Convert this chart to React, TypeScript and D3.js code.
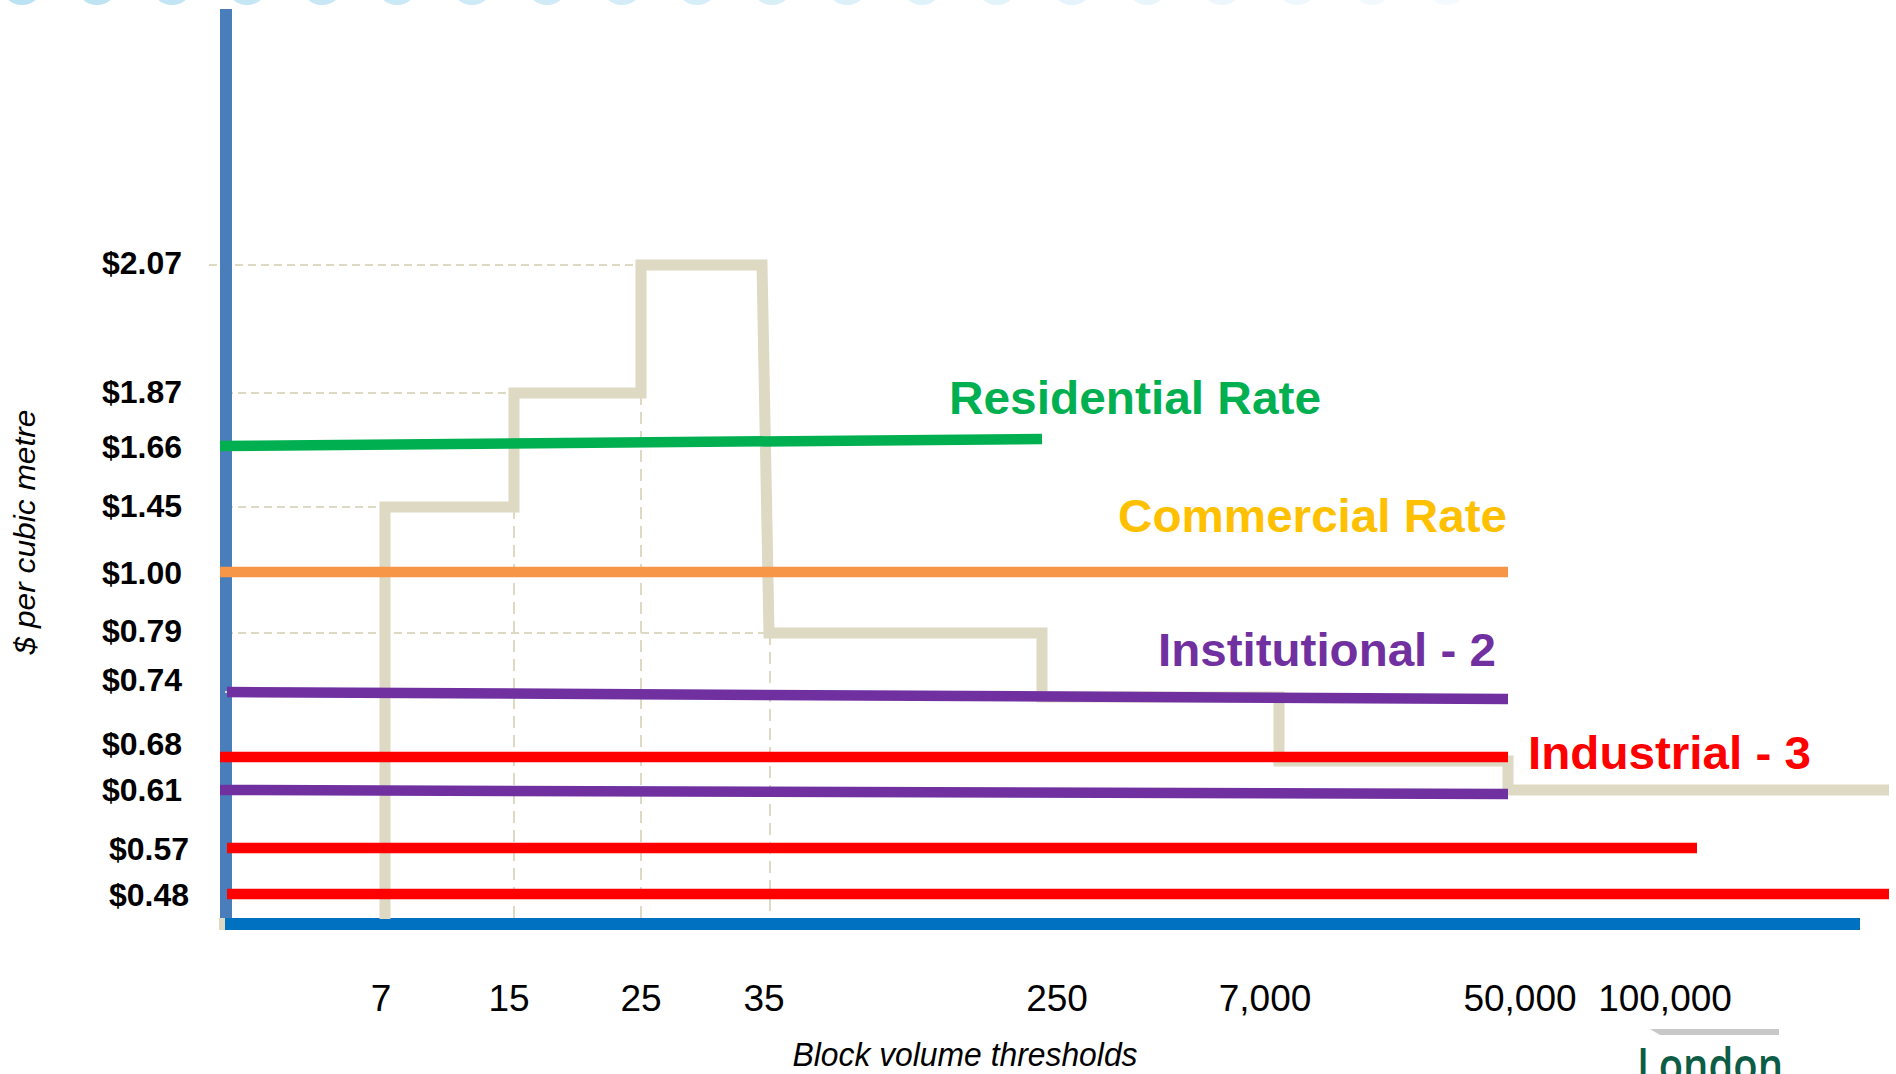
import React from "react";
import * as d3 from "d3";

// ---------- data ----------
const yTickValues = [2.07, 1.87, 1.66, 1.45, 1.0, 0.79, 0.74, 0.68, 0.61, 0.57, 0.48];
const xTickValues = [7, 15, 25, 35, 250, 7000, 50000, 100000];
const OPEN_END = 1000000; // open-ended last block

// old block-rate staircase (threshold -> rate that starts there)
const stepThresholds = [7, 15, 25, 35, 250, 7000, 50000];
const stepRates = [1.45, 1.87, 2.07, 0.79, 0.74, 0.68, 0.61];

// new flat rates: each tier = [rate, applies up to volume]
const residentialTiers = [{ rate: 1.66, upTo: 250 }];
const commercialTiers = [{ rate: 1.0, upTo: 50000 }];
const institutionalTiers = [
  { rate: 0.74, upTo: 50000 },
  { rate: 0.61, upTo: 50000 },
];
const industrialTiers = [
  { rate: 0.68, upTo: 50000 },
  { rate: 0.57, upTo: 100000 },
  { rate: 0.48, upTo: OPEN_END },
];

const seriesNames = ["Residential Rate", "Commercial Rate", "Institutional - 2", "Industrial - 3"];

// ---------- styles / layout ----------
const FONT = "'Liberation Sans', Arial, Helvetica, sans-serif";
const COLORS = {
  residential: "#00B050",
  commercialLine: "#F79646",
  commercialText: "#FFC000",
  institutional: "#7030A0",
  industrial: "#FF0000",
  step: "#DDD9C3",
  yAxis: "#4A7EBB",
  xAxis: "#0070C0",
};

export default function App() {
  const W = 1896;
  const H = 1074;

  // schematic (piecewise) scales
  const y = d3
    .scaleLinear()
    .domain(yTickValues)
    .range([265, 393, 446, 507, 572, 633, 692, 757, 790, 848, 894]);
  const x = d3
    .scaleLinear()
    .domain([0, ...xTickValues, OPEN_END])
    .range([226, 385, 514, 641, 766, 1042, 1279, 1508, 1697, 1889]);

  const yBottom = 919;

  // drawing quirks of the original slide, px
  const stepDy: Record<number, number> = { 4: 5, 5: 4 };
  const stepSlant: Record<number, [number, number]> = { 3: [-4, 3] };

  // staircase path (explicit corners)
  const stepPts: [number, number][] = [];
  let prevY = yBottom;
  stepThresholds.forEach((t, i) => {
    const [a, b] = stepSlant[i] || [0, 0];
    const ny = y(stepRates[i]) + (stepDy[i] || 0);
    stepPts.push([x(t) + a, prevY]);
    stepPts.push([x(t) + b, ny]);
    prevY = ny;
  });
  stepPts.push([x(OPEN_END), prevY]);
  const stepPath = d3.line()(stepPts) || "";

  const yLabelNudge: Record<string, number> = {
    "2.07": -3, "1.87": -2, "1.45": -2, "0.79": -3, "0.74": -13, "0.68": -14, "0.61": -1,
  };
  const yLabelShift: Record<string, number> = { "0.57": 7, "0.48": 7 };
  const xLabelNudge: Record<string, number> = {
    "7": -4, "15": -5, "25": 0, "35": -2, "250": 15, "7000": -14, "50000": 12, "100000": -32,
  };
  const lineTilt: Record<string, number> = { "0-0": -7, "2-0": 7, "2-1": 4 };
  const lineInset: Record<string, number> = { "2-0": 7, "3-1": 7, "3-2": 7 };
  const vDashDx: Record<number, number> = { 3: 4 };

  const fmtY = d3.format("$.2f");
  const fmtX = d3.format(",");

  const tiers = [
    { data: residentialTiers, color: COLORS.residential },
    { data: commercialTiers, color: COLORS.commercialLine },
    { data: institutionalTiers, color: COLORS.institutional },
    { data: industrialTiers, color: COLORS.industrial },
  ];

  const seriesLabels = [
    { name: seriesNames[0], color: COLORS.residential, x: 949, y: 414, len: 372 },
    { name: seriesNames[1], color: COLORS.commercialText, x: 1118, y: 532, len: 389 },
    { name: seriesNames[2], color: COLORS.institutional, x: 1158, y: 666, len: 338 },
    { name: seriesNames[3], color: COLORS.industrial, x: 1528, y: 769, len: 283 },
  ];

  const circles = d3.range(20);

  return (
    <svg
      width={W}
      height={H}
      style={{ position: "absolute", left: 0, top: 0, background: "#fff" }}
      fontFamily={FONT}
    >
      {/* decorative header circles */}
      {circles.map((i) => (
        <circle
          key={i}
          cx={22 + i * 75}
          cy={-16}
          r={21}
          fill="#B3DFF2"
          opacity={Math.max(0.12, 0.9 - i * 0.04)}
        />
      ))}

      {/* dashed guide lines */}
      {stepThresholds.slice(0, 4).map((t, i) => (
        <line
          key={"hd" + i}
          x1={i === 2 ? 209 : 225}
          x2={x(t)}
          y1={y(stepRates[i])}
          y2={y(stepRates[i])}
          stroke={COLORS.step}
          strokeWidth={2}
          strokeDasharray="8 5"
        />
      ))}
      {stepThresholds.slice(1, 4).map((t, k) => {
        const i = k + 1;
        const lower = Math.min(stepRates[i - 1], stepRates[i]);
        const xx = x(t) + (vDashDx[i] || 0);
        return (
          <line
            key={"vd" + i}
            x1={xx}
            x2={xx}
            y1={y(lower)}
            y2={yBottom}
            stroke={COLORS.step}
            strokeWidth={2}
            strokeDasharray="12 7"
          />
        );
      })}

      {/* axes */}
      <rect x={220} y={9} width={12} height={912} fill={COLORS.yAxis} />
      <rect x={219} y={918} width={7} height={12} fill={COLORS.step} />
      <rect x={225} y={918} width={1860 - 225} height={12} fill={COLORS.xAxis} />
      <line x1={225} x2={233} y1={y(0.74)} y2={y(0.74)} stroke={COLORS.step} strokeWidth={2} />

      {/* staircase */}
      <path d={stepPath} fill="none" stroke={COLORS.step} strokeWidth={11} strokeLinejoin="miter" />

      {/* flat rate lines */}
      {tiers.map((s, si) =>
        s.data.map((d, di) => {
          const k = si + "-" + di;
          return (
            <line
              key={k}
              x1={220 + (lineInset[k] || 0)}
              x2={x(d.upTo)}
              y1={y(d.rate)}
              y2={y(d.rate) + (lineTilt[k] || 0)}
              stroke={s.color}
              strokeWidth={10.5}
            />
          );
        })
      )}

      {/* y tick labels */}
      {yTickValues.map((v) => {
        const key = v.toFixed(2);
        return (
          <text
            key={key}
            x={182 + (yLabelShift[key] || 0)}
            y={y(v) + (yLabelNudge[key] || 0)}
            dy="0.36em"
            textAnchor="end"
            fontSize={32}
            fontWeight="bold"
            fill="#000"
          >
            {fmtY(v)}
          </text>
        );
      })}

      {/* x tick labels */}
      {xTickValues.map((v) => (
        <text
          key={v}
          x={x(v) + (xLabelNudge[String(v)] || 0)}
          y={1011}
          textAnchor="middle"
          fontSize={37}
          fill="#000"
        >
          {fmtX(v)}
        </text>
      ))}

      {/* axis titles */}
      <text
        x={965}
        y={1066}
        textAnchor="middle"
        fontSize={33}
        fontStyle="italic"
        fill="#000"
        textLength={345}
        lengthAdjust="spacingAndGlyphs"
      >
        Block volume thresholds
      </text>
      <text
        transform="translate(35,532) rotate(-90)"
        textAnchor="middle"
        fontSize={30}
        fontStyle="italic"
        fill="#000"
        textLength={245}
        lengthAdjust="spacingAndGlyphs"
      >
        $ per cubic metre
      </text>

      {/* series labels */}
      {seriesLabels.map((l) => (
        <text
          key={l.name}
          x={l.x}
          y={l.y}
          fontSize={47}
          fontWeight="bold"
          fill={l.color}
          textLength={l.len}
          lengthAdjust="spacingAndGlyphs"
        >
          {l.name}
        </text>
      ))}

      {/* logo fragment */}
      <polygon points="1650,1029 1779,1029 1779,1035 1660,1035" fill="#C8C8C8" />
      <text
        x={1637}
        y={1082}
        fontSize={47}
        fontFamily="'Open Sans', 'Noto Sans', sans-serif"
        fontWeight={600}
        fill="#0D5C45"
        textLength={146}
        lengthAdjust="spacingAndGlyphs"
      >
        London
      </text>
    </svg>
  );
}
